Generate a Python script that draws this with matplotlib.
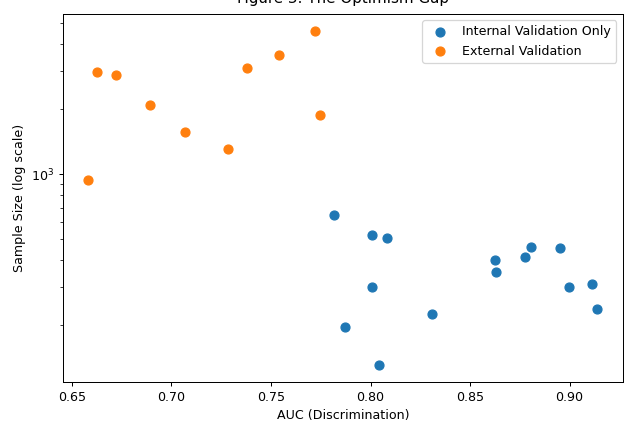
import matplotlib
matplotlib.use("Agg")
import matplotlib.pyplot as plt

# internal validation only
auc_internal = [0.7818, 0.8008, 0.8084, 0.8624, 0.8775, 0.8808, 0.8950, 0.8628,
                0.8008, 0.8995, 0.9112, 0.9139, 0.8310, 0.7871, 0.8043]
n_internal = [646, 524, 509, 400, 415, 462, 454, 353,
              301, 301, 310, 237, 226, 196, 131]

# external validation
auc_external = [0.6627, 0.6720, 0.6891, 0.7066, 0.7284, 0.7382, 0.7541, 0.7723,
                0.7747, 0.6583]
n_external = [2976, 2872, 2100, 1570, 1306, 3096, 3579, 4622, 1882, 938]

DPI = 91
fig = plt.figure(figsize=(626/DPI, 423/DPI), dpi=DPI)
ax = fig.add_axes([63/626, 41.3/423, 559.7/626, 367.7/423])

ax.scatter(auc_internal, n_internal, s=50, color="#1f77b4", label="Internal Validation Only")
ax.scatter(auc_external, n_external, s=50, color="#ff7f0e", label="External Validation")

ax.set_yscale("log")
# the title sits mostly above the top edge, as in the source picture
ax.set_title("Figure 3: The Optimism Gap", pad=8.5)
ax.set_xlabel("AUC (Discrimination)")
ax.set_ylabel("Sample Size (log scale)")
ax.legend(loc="upper right")

fig.savefig("out.png", dpi=DPI)
